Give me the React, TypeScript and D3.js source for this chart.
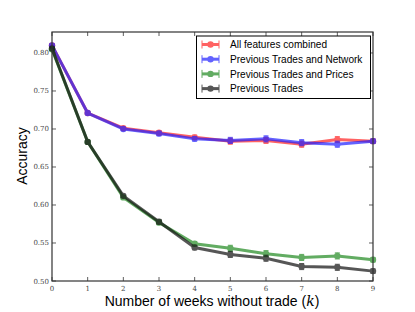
import React, { useEffect, useRef } from "react";
import * as d3 from "d3";

const weeks = [0, 1, 2, 3, 4, 5, 6, 7, 8, 9];
const yTicks = [0.5, 0.55, 0.6, 0.65, 0.7, 0.75, 0.8];

const allFeatures = [0.81, 0.721, 0.701, 0.695, 0.689, 0.684, 0.685, 0.68, 0.686, 0.684];
const tradesNetwork = [0.81, 0.721, 0.7, 0.694, 0.687, 0.685, 0.687, 0.682, 0.68, 0.684];
const tradesPrices = [0.805, 0.683, 0.61, 0.577, 0.549, 0.543, 0.536, 0.531, 0.533, 0.528];
const tradesOnly = [0.806, 0.683, 0.612, 0.578, 0.544, 0.535, 0.53, 0.519, 0.518, 0.513];
const errs = [0.002, 0.002, 0.002, 0.003, 0.003, 0.004, 0.004, 0.004, 0.004, 0.003];

const series = [
  { name: "All features combined", values: allFeatures, color: "#ff2020" },
  { name: "Previous Trades and Network", values: tradesNetwork, color: "#2020ff" },
  { name: "Previous Trades and Prices", values: tradesPrices, color: "#208a20" },
  { name: "Previous Trades", values: tradesOnly, color: "#101010" },
];

const App: React.FC = () => {
  const svgRef = useRef<SVGSVGElement>(null);

  useEffect(() => {
    if (!svgRef.current) return;
    const svg = d3.select(svgRef.current);
    svg.selectAll("*").remove();

    const left = 52, right = 373, top = 32, bottom = 281;
    const x = d3.scaleLinear().domain([0, 9]).range([left, right]);
    const y = d3.scaleLinear().domain([0.5, 0.8276]).range([bottom, top]);

    // data lines
    const line = d3.line<number>().x((_, i) => x(weeks[i])).y((d) => y(d));
    series.forEach((s) => {
      const g = svg.append("g").attr("opacity", 0.7);
      g.append("path")
        .attr("d", line(s.values))
        .attr("fill", "none")
        .attr("stroke", s.color)
        .attr("stroke-width", 3);
      s.values.forEach((v, i) => {
        const cx = x(weeks[i]);
        const e = errs[i];
        g.append("line").attr("x1", cx).attr("x2", cx)
          .attr("y1", y(v - e)).attr("y2", y(v + e))
          .attr("stroke", s.color).attr("stroke-width", 1);
        [v - e, v + e].forEach((c) => {
          g.append("line").attr("x1", cx - 2.5).attr("x2", cx + 2.5)
            .attr("y1", y(c)).attr("y2", y(c))
            .attr("stroke", s.color).attr("stroke-width", 1);
        });
        g.append("circle").attr("cx", cx).attr("cy", y(v)).attr("r", 3.2)
          .attr("fill", s.color);
      });
    });

    // frame
    svg.append("rect")
      .attr("x", left).attr("y", top)
      .attr("width", right - left).attr("height", bottom - top)
      .attr("fill", "none").attr("stroke", "#333").attr("stroke-width", 1.2);

    const tickFont = "'DejaVu Serif', serif";
    // x ticks (inward, top and bottom)
    weeks.forEach((w) => {
      const px = x(w);
      svg.append("line").attr("x1", px).attr("x2", px).attr("y1", bottom).attr("y2", bottom - 4)
        .attr("stroke", "#333").attr("stroke-width", 0.8);
      svg.append("line").attr("x1", px).attr("x2", px).attr("y1", top).attr("y2", top + 4)
        .attr("stroke", "#333").attr("stroke-width", 0.8);
      svg.append("text").attr("x", px).attr("y", bottom + 10)
        .attr("text-anchor", "middle").attr("font-family", tickFont).attr("font-size", 7)
        .attr("fill", "#444").text(String(w));
    });
    // y ticks
    yTicks.forEach((t) => {
      const py = y(t);
      svg.append("line").attr("x1", left).attr("x2", left + 4).attr("y1", py).attr("y2", py)
        .attr("stroke", "#333").attr("stroke-width", 0.8);
      svg.append("line").attr("x1", right).attr("x2", right - 4).attr("y1", py).attr("y2", py)
        .attr("stroke", "#333").attr("stroke-width", 0.8);
      svg.append("text").attr("x", left - 3).attr("y", py + 2.5)
        .attr("text-anchor", "end").attr("font-family", tickFont).attr("font-size", 7)
        .attr("fill", "#444").text(t.toFixed(2));
    });

    // axis labels
    const xl = svg.append("text").attr("x", 212).attr("y", 306)
      .attr("text-anchor", "middle").attr("font-family", "'Liberation Sans', Arial, sans-serif")
      .attr("font-size", 14).attr("fill", "#000");
    xl.append("tspan").text("Number of weeks without trade (");
    xl.append("tspan").attr("font-family", "'DejaVu Serif', serif").attr("font-style", "italic").text("k");
    xl.append("tspan").text(")");

    svg.append("text").attr("transform", `translate(26.5,156) rotate(-90)`)
      .attr("text-anchor", "middle").attr("font-family", "'Liberation Sans', Arial, sans-serif")
      .attr("font-size", 14).attr("fill", "#000").text("Accuracy");

    // legend
    const lg = svg.append("g");
    lg.append("rect").attr("x", 196.5).attr("y", 36).attr("width", 174).attr("height", 62.5)
      .attr("fill", "#fff").attr("stroke", "#000").attr("stroke-width", 1);
    series.forEach((s, i) => {
      const ly = 44.5 + i * 14.7;
      const g = lg.append("g").attr("opacity", 0.7);
      g.append("line").attr("x1", 202).attr("x2", 219).attr("y1", ly).attr("y2", ly)
        .attr("stroke", s.color).attr("stroke-width", 3);
      [202, 219].forEach((ex) => {
        g.append("line").attr("x1", ex).attr("x2", ex).attr("y1", ly - 4).attr("y2", ly + 4)
          .attr("stroke", s.color).attr("stroke-width", 1);
      });
      g.append("circle").attr("cx", 210.5).attr("cy", ly).attr("r", 3.2).attr("fill", s.color);
      lg.append("text").attr("x", 230).attr("y", ly + 3.8)
        .attr("font-family", "'Liberation Sans', Arial, sans-serif").attr("font-size", 10.1)
        .attr("fill", "#000").text(s.name);
    });
  }, []);

  return (
    <svg
      ref={svgRef}
      width={415}
      height={312}
      style={{ position: "absolute", left: 0, top: 0, background: "#fff" }}
    />
  );
};

export default App;
